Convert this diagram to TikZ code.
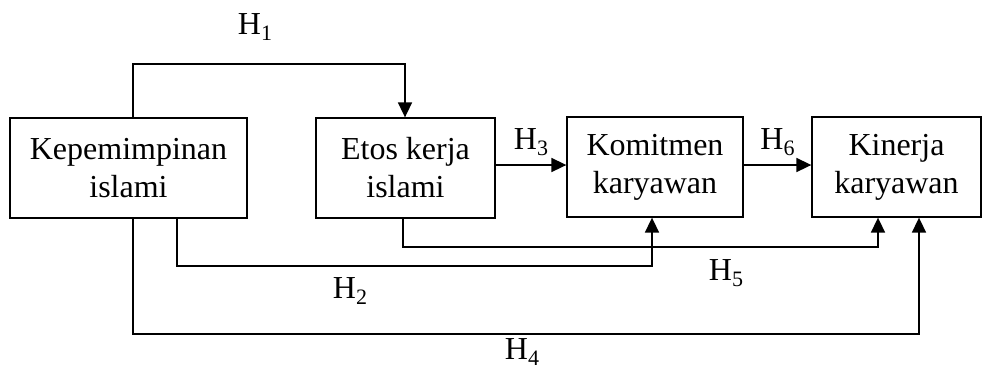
\documentclass[tikz,border=0pt]{standalone}
\usepackage{fontspec}
\setmainfont{Liberation Serif}
\usepackage{tikz}
\usetikzlibrary{arrows.meta,positioning}

\newcommand{\hyp}[1]{H\raisebox{-3pt}{\fontsize{11}{11}\selectfont #1}}

\begin{document}
\begin{tikzpicture}[
    x=0.5pt, y=-0.5pt,
    font=\fontsize{16}{19}\selectfont,
    box/.style={draw, line width=0.65pt, align=center, inner sep=0pt, minimum height=50pt},
    arrow/.style={-{Triangle[length=7.5pt, width=7pt]}, line width=0.85pt},
    hlabel/.style={inner sep=1pt}
  ]
  \useasboundingbox (0,0) rectangle (982,371);

  % Variables
  \node[box, minimum width=118.5pt] (kep) at (128.5,168) {Kepemimpinan\\islami};
  \node[box, minimum width=89.5pt] (etos) at (405.5,168) {Etos kerja\\islami};
  \node[box, minimum width=88pt] (kom) at (655,167) {Komitmen\\karyawan};
  \node[box, minimum width=84.5pt] (kin) at (896.5,167) {Kinerja\\karyawan};

  % Bend points
  \coordinate (h1top) at (133,64);
  \coordinate (h2low) at (177,266);
  \coordinate (h2end) at (652,266);
  \coordinate (h5low) at (403,247);
  \coordinate (h5end) at (878,247);
  \coordinate (h4low) at (133,334);
  \coordinate (h4end) at (919,334);

  % Connectors
  \draw[arrow] (kep.north -| h1top) -- (h1top) -| (etos.north -| 405,0);
  \draw[arrow] (etos.east |- 0,165) -- node[above=3pt, hlabel]{\hyp{3}} (kom.west |- 0,165);
  \draw[arrow] (kom.east |- 0,165) -- node[above=3pt, hlabel]{\hyp{6}} (kin.west |- 0,165);
  \draw[arrow] (kep.south -| h2low) -- (h2low) -- (h2end) -- (h2end |- kom.south);
  \draw[arrow] (etos.south -| h5low) -- (h5low) -- (h5end) -- (h5end |- kin.south);
  \draw[arrow] (kep.south -| h4low) -- (h4low) -- (h4end) -- (h4end |- kin.south);

  % Labels
  \node[hlabel] (lab1) at (255,27) {\hyp{1}};
  \node[hlabel] (lab2) at (350,291) {\hyp{2}};
  \node[hlabel] (lab5) at (726,273) {\hyp{5}};
  \node[hlabel] (lab4) at (522,352) {\hyp{4}};

\end{tikzpicture}
\end{document}
